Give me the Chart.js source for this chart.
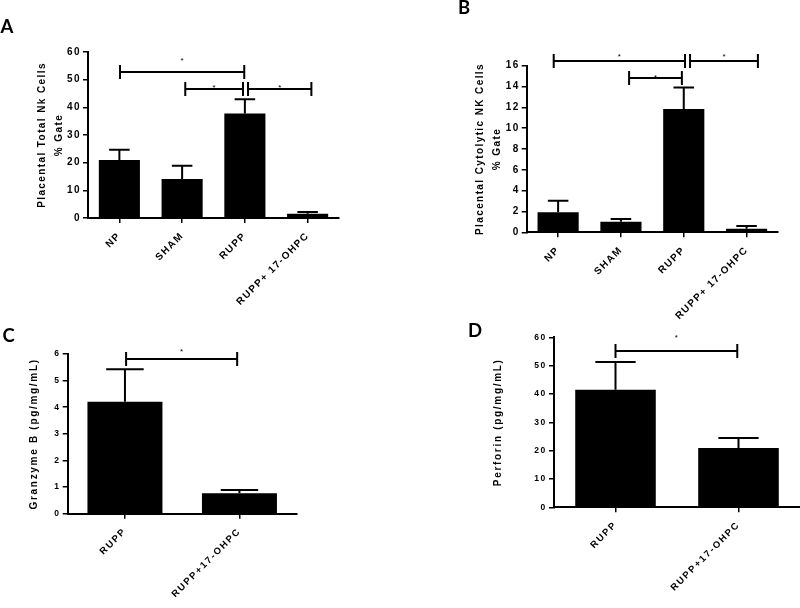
<!DOCTYPE html>
<html><head><meta charset="utf-8">
<script src="https://cdn.jsdelivr.net/npm/chart.js@4.4.1/dist/chart.umd.min.js"></script>
<style>
html,body{margin:0;padding:0;background:#fff;width:800px;height:608px;overflow:hidden;position:relative}
canvas{position:absolute;background:transparent}
</style></head><body>
<canvas id="cA" width="400" height="330" style="left:0;top:0"></canvas>
<canvas id="cB" width="400" height="330" style="left:400px;top:0"></canvas>
<canvas id="cC" width="400" height="298" style="left:0;top:310px"></canvas>
<canvas id="cD" width="400" height="298" style="left:400px;top:310px"></canvas>
<script>
// ---- data ----
const nkGroups = ['NP', 'SHAM', 'RUPP', 'RUPP+ 17-OHPC'];
const totalNK = [21.0, 14.1, 37.8, 1.5];
const totalNKErr = [3.7, 4.8, 5.1, 0.7];
const cytoNK = [1.92, 1.02, 11.84, 0.35];
const cytoNKErr = [1.1, 0.26, 2.06, 0.25];
const enzGroups = ['RUPP', 'RUPP+17-OHPC'];
const granzyme = [4.21, 0.77];
const granzymeErr = [1.22, 0.12];
const perforin = [41.5, 20.9];
const perforinErr = [9.8, 3.6];
// y-axis tick ranges
const yMaxA = 60, yStepA = 10;
const yMaxB = 16, yStepB = 2;
const yMaxC = 6, yStepC = 1;
const yMaxD = 60, yStepD = 10;
// significance brackets: [from group index, to group index, height in axis units]
const sigA = [[0.01, 1.99, 52.7], [1.05, 1.97, 46.5], [2.05, 3.06, 46.5]];
const sigB = [[-0.07, 2.02, 16.42], [2.10, 3.18, 16.42], [1.13, 1.97, 14.85]];
const sigC = [[0.01, 0.98, 5.81]];
const sigD = [[0.0, 0.99, 55.2]];

Chart.defaults.font.family = 'Liberation Sans';
Chart.defaults.color = '#000';

const annot = {
  id: 'annot',
  beforeUpdate(chart, args, o) { chart.ctx.letterSpacing = o.spacing; },
  beforeDraw(chart, args, o) { chart.ctx.letterSpacing = o.spacing; },
  afterDatasetsDraw(chart, args, o) {
    const ctx = chart.ctx, xs = chart.scales.x, ys = chart.scales.y;
    const vals = chart.data.datasets[0].data;
    ctx.save();
    ctx.letterSpacing = '0px';
    ctx.strokeStyle = '#000';
    ctx.fillStyle = '#000';
    ctx.lineWidth = 2;
    chart.getDatasetMeta(0).data.forEach((bar, i) => {
      const yb = ys.getPixelForValue(vals[i]);
      const yt = ys.getPixelForValue(vals[i] + o.err[i]);
      const hw = bar.width / 4;
      ctx.beginPath();
      ctx.moveTo(bar.x, yb); ctx.lineTo(bar.x, yt);
      ctx.moveTo(bar.x - hw, yt); ctx.lineTo(bar.x + hw, yt);
      ctx.stroke();
    });
    ctx.font = '8px "Liberation Sans"';
    ctx.textAlign = 'center';
    ctx.textBaseline = 'alphabetic';
    o.sig.forEach((s, k) => {
      const x1 = xs.getPixelForValue(s[0]), x2 = xs.getPixelForValue(s[1]);
      const yy = Math.round(ys.getPixelForValue(s[2]));
      ctx.beginPath();
      ctx.moveTo(x1, yy); ctx.lineTo(x2, yy);
      ctx.moveTo(x1, yy - 7); ctx.lineTo(x1, yy + 7);
      ctx.moveTo(x2, yy - 7); ctx.lineTo(x2, yy + 7);
      ctx.stroke();
      ctx.fillText('*', (x1 + x2) / 2, yy - o.starGap[k] + 4.6);
    });
    ctx.restore();
  },
  afterDraw(chart, args, o) {
    const ctx = chart.ctx;
    ctx.save();
    ctx.letterSpacing = '0px';
    ctx.fillStyle = '#000';
    ctx.font = 'bold 18.5px Lato';
    ctx.textAlign = 'left';
    ctx.textBaseline = 'alphabetic';
    ctx.fillText(o.letter, o.letterX, o.letterY);
    ctx.restore();
  }
};

function makeChart(id, c) {
  const el = document.getElementById(id);
  const tickFont = {family: 'Liberation Sans', size: c.tickSize, weight: 'bold'};
  return new Chart(el, {
    type: 'bar',
    data: {labels: c.labels, datasets: [{data: c.values, backgroundColor: '#000', borderWidth: 0,
      barPercentage: 0.655, categoryPercentage: 1}]},
    options: {
      responsive: false, animation: false, devicePixelRatio: 1,
      events: [],
      layout: {padding: {left: 0, top: c.top, right: c.w - c.right, bottom: 0}},
      plugins: {
        legend: {display: false}, tooltip: {enabled: false},
        annot: {err: c.err, sig: c.sig, starGap: c.starGap, spacing: c.spacing,
          letter: c.letter, letterX: c.letterX, letterY: c.letterY}
      },
      scales: {
        x: {
          offset: true,
          grid: {offset: false, drawOnChartArea: false, drawTicks: true, tickLength: 5, color: '#000', lineWidth: 1.5},
          border: {display: true, color: '#000', width: 2},
          ticks: {autoSkip: false, minRotation: 45, maxRotation: 45, padding: 7, color: '#000',
            font: {family: 'Liberation Sans', size: c.xSize, weight: 'bold'}},
          afterFit(s) { s.height = c.h - c.bottom; }
        },
        y: {
          min: 0, max: c.yMax,
          grid: {drawOnChartArea: false, drawTicks: true, tickLength: 5, color: '#000', lineWidth: 1.5},
          border: {display: true, color: '#000', width: 2},
          ticks: {stepSize: c.yStep, padding: 2, color: '#000', font: tickFont},
          title: {display: true, text: c.title, color: '#000',
            font: {family: 'Liberation Sans', size: 10, weight: 'bold', lineHeight: c.titleLH},
            padding: {top: c.titlePad, bottom: 0}},
          afterFit(s) { s.width = c.left; }
        }
      }
    },
    plugins: [annot]
  });
}

makeChart('cA', {labels: nkGroups, values: totalNK, err: totalNKErr, sig: sigA, starGap: [14, 4, 4],
  yMax: yMaxA, yStep: yStepA, w: 400, h: 330, left: 88, top: 52, right: 339, bottom: 218,
  tickSize: 10, xSize: 10, spacing: '1.4px', title: ['Placental Total Nk Cells', '% Gate'],
  titleLH: 1.7, titlePad: 33.5, letter: 'A', letterX: 0.5, letterY: 33.3});
makeChart('cB', {labels: nkGroups, values: cytoNK, err: cytoNKErr, sig: sigB, starGap: [7, 7, 2.5],
  yMax: yMaxB, yStep: yStepB, w: 400, h: 330, left: 126.7, top: 65.7, right: 378, bottom: 232.3,
  tickSize: 10, xSize: 10, spacing: '1.4px', title: ['Placental Cytolytic NK Cells', '% Gate'],
  titleLH: 1.7, titlePad: 71.5, letter: 'B', letterX: 58, letterY: 14});
makeChart('cC', {labels: enzGroups, values: granzyme, err: granzymeErr, sig: sigC, starGap: [10],
  yMax: yMaxC, yStep: yStepC, w: 400, h: 298, left: 67.7, top: 44, right: 296.7, bottom: 203.7,
  tickSize: 8.5, xSize: 9.5, spacing: '1.7px', title: 'Granzyme B (pg/mg/mL)',
  titleLH: 1.2, titlePad: 28, letter: 'C', letterX: 2.5, letterY: 31.7});
makeChart('cD', {labels: enzGroups, values: perforin, err: perforinErr, sig: sigD, starGap: [16],
  yMax: yMaxD, yStep: yStepD, w: 400, h: 298, left: 154, top: 27.3, right: 400, bottom: 197.3,
  tickSize: 8.5, xSize: 9.5, spacing: '1.7px', title: 'Perforin (pg/mg/mL)',
  titleLH: 1.2, titlePad: 92, letter: 'D', letterX: 68, letterY: 26.7});
</script>
</body></html>
